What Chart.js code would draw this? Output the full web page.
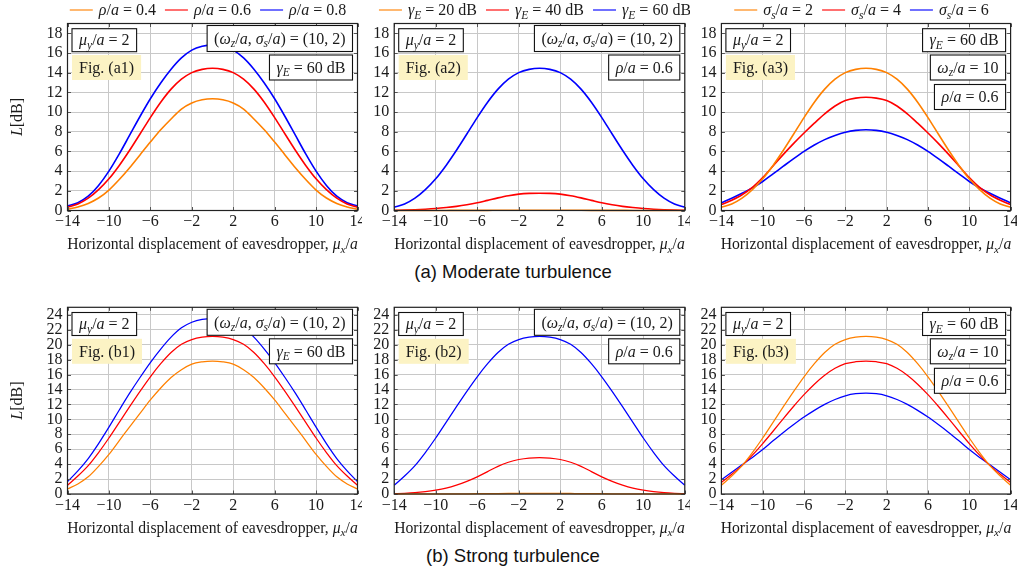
<!DOCTYPE html>
<html>
<head>
<meta charset="utf-8">
<script src="https://cdn.jsdelivr.net/npm/chart.js@4.4.1/dist/chart.umd.min.js"></script>
<style>
  html, body { margin: 0; padding: 0; background: #fff; }
  body { width: 1017px; height: 573px; position: relative; overflow: hidden; }
  canvas { position: absolute; }
  .cap {
    position: absolute; transform: translate(-50%, -50%); white-space: nowrap;
    font-family: "Liberation Sans", Arial, sans-serif; font-size: 18.5px; color: #111;
  }
</style>
</head>
<body>
<canvas id="a1"></canvas>
<canvas id="a2"></canvas>
<canvas id="a3"></canvas>
<canvas id="b1"></canvas>
<canvas id="b2"></canvas>
<canvas id="b3"></canvas>
<div class="cap" style="left:513px; top:272px;">(a) Moderate turbulence</div>
<div class="cap" style="left:513px; top:556px;">(b) Strong turbulence</div>
<script>
// horizontal displacement of the eavesdropper, mu_x / a
const muX = [-14, -13, -12, -11, -10, -9, -8, -7, -6, -5, -4, -3, -2, -1, 0,
             1, 2, 3, 4, 5, 6, 7, 8, 9, 10, 11, 12, 13, 14];
const xTicks = [-14, -10, -6, -2, 2, 6, 10, 14];
const yTicksModerate = [0, 2, 4, 6, 8, 10, 12, 14, 16, 18];
const yTicksStrong = [0, 2, 4, 6, 8, 10, 12, 14, 16, 18, 20, 22, 24];

// (a) moderate turbulence, L in dB
const modRho04 = [0.13, 0.36, 0.72, 1.27, 2.08, 3.15, 4.35, 5.65, 6.95, 8.2, 9.3, 10.31, 10.93, 11.25, 11.35,
                  11.25, 10.93, 10.31, 9.3, 8.2, 6.95, 5.65, 4.35, 3.15, 2.08, 1.27, 0.72, 0.36, 0.13];
// rho/a = 0.6, gammaE = 60 dB, sigma_s/a = 2 (same curve in a1, a2, a3)
const modRho06 = [0.32, 0.66, 1.25, 2.12, 3.22, 4.58, 6.12, 7.77, 9.44, 11.0, 12.33, 13.34, 14.01, 14.34, 14.45,
                  14.34, 14.01, 13.34, 12.33, 11.0, 9.44, 7.77, 6.12, 4.58, 3.22, 2.12, 1.25, 0.66, 0.32];
const modRho08 = [0.45, 0.79, 1.45, 2.55, 4.0, 5.75, 7.65, 9.55, 11.35, 12.95, 14.35, 15.5, 16.3, 16.68, 16.8,
                  16.68, 16.3, 15.5, 14.35, 12.95, 11.35, 9.55, 7.65, 5.75, 4.0, 2.55, 1.45, 0.79, 0.45];
const modGamma20 = [0, 0.001, 0.002, 0.003, 0.005, 0.007, 0.01, 0.012, 0.015, 0.017, 0.02, 0.022, 0.025, 0.03, 0.03,
                    0.03, 0.025, 0.022, 0.02, 0.017, 0.015, 0.012, 0.01, 0.007, 0.005, 0.003, 0.002, 0.001, 0];
const modGamma40 = [0.02, 0.04, 0.08, 0.13, 0.2, 0.3, 0.42, 0.58, 0.78, 1.03, 1.28, 1.5, 1.66, 1.74, 1.76,
                    1.74, 1.66, 1.5, 1.28, 1.03, 0.78, 0.58, 0.42, 0.3, 0.2, 0.13, 0.08, 0.04, 0.02];
const modSigma4 = [0.6, 1.05, 1.6, 2.35, 3.35, 4.52, 5.7, 6.82, 7.87, 8.87, 9.82, 10.62, 11.17, 11.42, 11.5,
                   11.42, 11.17, 10.62, 9.82, 8.87, 7.87, 6.82, 5.7, 4.52, 3.35, 2.35, 1.6, 1.05, 0.6];
const modSigma6 = [0.78, 1.25, 1.75, 2.3, 2.95, 3.72, 4.5, 5.27, 6.0, 6.65, 7.2, 7.62, 7.95, 8.14, 8.2,
                   8.14, 7.95, 7.62, 7.2, 6.65, 6.0, 5.27, 4.5, 3.72, 2.95, 2.3, 1.75, 1.25, 0.78];

// (b) strong turbulence, L in dB
const strRho04 = [0.67, 1.35, 2.3, 3.7, 5.3, 7.15, 9.0, 10.8, 12.6, 14.2, 15.6, 16.65, 17.4, 17.7, 17.8,
                  17.7, 17.4, 16.65, 15.6, 14.2, 12.6, 10.8, 9.0, 7.15, 5.3, 3.7, 2.3, 1.35, 0.67];
const strRho06 = [1.16, 2.4, 3.8, 5.55, 7.5, 9.6, 11.7, 13.75, 15.7, 17.45, 18.95, 20.05, 20.68, 21.0, 21.1,
                  21.0, 20.68, 20.05, 18.95, 17.45, 15.7, 13.75, 11.7, 9.6, 7.5, 5.55, 3.8, 2.4, 1.16];
const strRho08 = [1.66, 3.1, 4.75, 6.75, 8.95, 11.25, 13.5, 15.6, 17.6, 19.4, 21.0, 22.25, 23.0, 23.38, 23.5,
                  23.38, 23.0, 22.25, 21.0, 19.4, 17.6, 15.6, 13.5, 11.25, 8.95, 6.75, 4.75, 3.1, 1.66];
const strGamma20 = [0, 0.001, 0.002, 0.004, 0.006, 0.01, 0.016, 0.025, 0.035, 0.048, 0.06, 0.068, 0.075, 0.079, 0.08,
                    0.079, 0.075, 0.068, 0.06, 0.048, 0.035, 0.025, 0.016, 0.01, 0.006, 0.004, 0.002, 0.001, 0];
const strGamma40 = [0.05, 0.1, 0.18, 0.32, 0.52, 0.8, 1.2, 1.7, 2.3, 3.0, 3.7, 4.25, 4.62, 4.82, 4.87,
                    4.82, 4.62, 4.25, 3.7, 3.0, 2.3, 1.7, 1.2, 0.8, 0.52, 0.32, 0.18, 0.1, 0.05];
const strSigma4 = [1.55, 2.65, 3.8, 5.2, 6.75, 8.4, 10.1, 11.75, 13.3, 14.7, 15.9, 16.83, 17.45, 17.71, 17.8,
                   17.71, 17.45, 16.83, 15.9, 14.7, 13.3, 11.75, 10.1, 8.4, 6.75, 5.2, 3.8, 2.65, 1.55];
const strSigma6 = [1.9, 2.92, 3.92, 4.9, 5.95, 7.12, 8.25, 9.3, 10.3, 11.2, 12.0, 12.65, 13.15, 13.43, 13.5,
                   13.43, 13.15, 12.65, 12.0, 11.2, 10.3, 9.3, 8.25, 7.12, 5.95, 4.9, 3.92, 2.92, 1.9];

const ORANGE = '#ff8000';
const RED = '#ff0000';
const BLUE = '#0000ff';
const SERIF = '"Liberation Serif", "Times New Roman", serif';
const TEXT = '#1a1a1a';
const FIG_BG = '#fcf3c4';
const NOTE_SIZE = 16;

// simple markup: _c or _{..} subscript, {..} upright group, letters italic
function parseRich(str) {
    const segs = [];
    let i = 0;
    while (i < str.length) {
        const c = str[i];
        if (c === '_') {
            let t;
            if (str[i + 1] === '{') {
                const j = str.indexOf('}', i);
                t = str.slice(i + 2, j);
                i = j + 1;
            } else {
                t = str[i + 1];
                i += 2;
            }
            segs.push({ t: t, it: true, sub: true });
        } else if (c === '{') {
            const j = str.indexOf('}', i);
            segs.push({ t: str.slice(i + 1, j), it: false });
            i = j + 1;
        } else {
            segs.push({ t: c, it: /[A-Za-z\u03b1-\u03c9]/.test(c) });
            i++;
        }
    }
    return segs;
}

function fontFor(seg, size) {
    const s = seg.sub ? size * 0.72 : size;
    return (seg.it ? 'italic ' : '') + s + 'px ' + SERIF;
}

function richWidth(ctx, segs, size) {
    let w = 0;
    segs.forEach(g => {
        ctx.font = fontFor(g, size);
        w += ctx.measureText(g.t).width;
    });
    return w;
}

function drawRich(ctx, str, x, yMid, size, align) {
    const segs = parseRich(str);
    const w = richWidth(ctx, segs, size);
    let cx = align === 'center' ? x - w / 2 : (align === 'right' ? x - w : x);
    const base = yMid + size * 0.33;
    ctx.textAlign = 'left';
    ctx.textBaseline = 'alphabetic';
    ctx.fillStyle = TEXT;
    segs.forEach(g => {
        ctx.font = fontFor(g, size);
        ctx.fillText(g.t, cx, base + (g.sub ? size * 0.22 : 0));
        cx += ctx.measureText(g.t).width;
    });
    return w;
}

function tickText(v) {
    return v < 0 ? '\u2212' + Math.abs(v) : String(v);
}

const cols = [
    { left: 0, width: 362, yw: 67.5, rp: 4.5 },
    { left: 362, width: 328, yw: 32.2, rp: 5.2 },
    { left: 690, width: 327, yw: 31.4, rp: 6.4 }
];
const rows = {
    a: { top: 0, height: 256, padTop: 23.5, xh: 45.5, yMax: 19, yTicks: yTicksModerate, lw: 1.6, legend: true },
    b: { top: 290, height: 250, padTop: 17.3, xh: 46, yMax: 25, yTicks: yTicksStrong, lw: 1.25, legend: false }
};

const boxMu = { txt: '\u03bc_y/a = 2', side: 'l', top: 5.2, h: 23 };
const boxOmegaSigma = { txt: '(\u03c9_z/a, \u03c3_s/a) = (10, 2)', side: 'r', top: 2, h: 26 };
const figBox = name => ({ txt: '{Fig. (' + name + ')}', side: 'l', top: 31.5, h: 25, fill: FIG_BG });

const panels = [
    { id: 'a1', row: 'a', col: 0, yTitle: true,
      series: [[modRho04, '\u03c1/a = 0.4', ORANGE], [modRho06, '\u03c1/a = 0.6', RED], [modRho08, '\u03c1/a = 0.8', BLUE]],
      boxes: [boxMu, figBox('a1'), boxOmegaSigma, { txt: '\u03b3_E = 60 {dB}', side: 'r', top: 31.5, h: 25 }] },
    { id: 'a2', row: 'a', col: 1,
      series: [[modGamma20, '\u03b3_E = 20 {dB}', ORANGE], [modGamma40, '\u03b3_E = 40 {dB}', RED], [modRho06, '\u03b3_E = 60 {dB}', BLUE]],
      boxes: [boxMu, figBox('a2'), boxOmegaSigma, { txt: '\u03c1/a = 0.6', side: 'r', top: 31.5, h: 25 }] },
    { id: 'a3', row: 'a', col: 2,
      series: [[modRho06, '\u03c3_s/a = 2', ORANGE], [modSigma4, '\u03c3_s/a = 4', RED], [modSigma6, '\u03c3_s/a = 6', BLUE]],
      boxes: [boxMu, figBox('a3'), { txt: '\u03b3_E = 60 {dB}', side: 'r', top: 5.2, h: 23 },
              { txt: '\u03c9_z/a = 10', side: 'r', top: 31.5, h: 25 }, { txt: '\u03c1/a = 0.6', side: 'r', top: 61, h: 25 }] },
    { id: 'b1', row: 'b', col: 0, yTitle: true,
      series: [[strRho04, '\u03c1/a = 0.4', ORANGE], [strRho06, '\u03c1/a = 0.6', RED], [strRho08, '\u03c1/a = 0.8', BLUE]],
      boxes: [boxMu, figBox('b1'), boxOmegaSigma, { txt: '\u03b3_E = 60 {dB}', side: 'r', top: 31.5, h: 25 }] },
    { id: 'b2', row: 'b', col: 1,
      series: [[strGamma20, '\u03b3_E = 20 {dB}', ORANGE], [strGamma40, '\u03b3_E = 40 {dB}', RED], [strRho06, '\u03b3_E = 60 {dB}', BLUE]],
      boxes: [boxMu, figBox('b2'), boxOmegaSigma, { txt: '\u03c1/a = 0.6', side: 'r', top: 31.5, h: 25 }] },
    { id: 'b3', row: 'b', col: 2,
      series: [[strRho06, '\u03c3_s/a = 2', ORANGE], [strSigma4, '\u03c3_s/a = 4', RED], [strSigma6, '\u03c3_s/a = 6', BLUE]],
      boxes: [boxMu, figBox('b3'), { txt: '\u03b3_E = 60 {dB}', side: 'r', top: 5.2, h: 23 },
              { txt: '\u03c9_z/a = 10', side: 'r', top: 31.5, h: 25 }, { txt: '\u03c1/a = 0.6', side: 'r', top: 61, h: 25 }] }
];

// panel settings looked up by canvas id (kept out of the chart options)
const panelById = {};
panels.forEach(p => { panelById[p.id] = p; });

// frame, inner tick marks, note boxes, legend and axis titles
const overlay = {
    id: 'overlay',
    afterDatasetsDraw(chart) {
        const ctx = chart.ctx;
        const a = chart.chartArea;
        const sx = chart.scales.x, sy = chart.scales.y;
        const p = panelById[chart.canvas.id];
        const r = rows[p.row];
        ctx.save();

        ctx.strokeStyle = '#555';
        ctx.lineWidth = 1;
        ctx.beginPath();
        xTicks.forEach(v => {
            const px = Math.round(sx.getPixelForValue(v)) + 0.5;
            ctx.moveTo(px, a.bottom); ctx.lineTo(px, a.bottom - 3.5);
            ctx.moveTo(px, a.top); ctx.lineTo(px, a.top + 3.5);
        });
        r.yTicks.forEach(v => {
            const py = Math.round(sy.getPixelForValue(v)) + 0.5;
            ctx.moveTo(a.left, py); ctx.lineTo(a.left + 3.5, py);
            ctx.moveTo(a.right, py); ctx.lineTo(a.right - 3.5, py);
        });
        ctx.stroke();

        ctx.strokeStyle = '#222';
        ctx.lineWidth = 1.2;
        ctx.strokeRect(a.left, a.top, a.right - a.left, a.bottom - a.top);

        // note boxes
        p.boxes.forEach(b => {
            const w = richWidth(ctx, parseRich(b.txt), NOTE_SIZE) + 14;
            const bx = b.side === 'l' ? a.left + 4.5 : a.right - 5 - w;
            const by = a.top + b.top;
            ctx.fillStyle = b.fill ? b.fill : '#ffffff';
            ctx.fillRect(bx, by, w, b.h);
            if (!b.fill) {
                ctx.strokeStyle = '#111';
                ctx.lineWidth = 1.1;
                ctx.strokeRect(bx, by, w, b.h);
            }
            drawRich(ctx, b.txt, bx + 7, by + b.h / 2, NOTE_SIZE, 'left');
        });

        // legend above the plot (row a only)
        if (r.legend) {
            const items = chart.data.datasets.map(d => ({ d: d, w: richWidth(ctx, parseRich(d.label), NOTE_SIZE) }));
            const lineLen = 23, gap1 = 6, gap2 = 9;
            let total = 0;
            items.forEach(it => { total += lineLen + gap1 + it.w + gap2; });
            let lx = (a.left + a.right) / 2 - total / 2;
            const ly = 10;
            items.forEach(it => {
                ctx.strokeStyle = it.d.borderColor;
                ctx.globalAlpha = 0.7;
                ctx.lineWidth = 1.6;
                ctx.beginPath();
                ctx.moveTo(lx, ly); ctx.lineTo(lx + lineLen, ly);
                ctx.stroke();
                ctx.globalAlpha = 1;
                drawRich(ctx, it.d.label, lx + lineLen + gap1, ly, NOTE_SIZE, 'left');
                lx += lineLen + gap1 + it.w + gap2;
            });
        }

        drawRich(ctx, '{Horizontal displacement of eavesdropper, }\u03bc_x/a',
            (a.left + a.right) / 2, a.bottom + 33.5, 15.7, 'center');

        if (p.yTitle) {
            ctx.translate(17, (a.top + a.bottom) / 2);
            ctx.rotate(-Math.PI / 2);
            drawRich(ctx, 'L{[dB]}', 0, 0, 16, 'center');
        }
        ctx.restore();
    }
};

function makePanel(p) {
    const r = rows[p.row], c = cols[p.col];
    const canvas = document.getElementById(p.id);
    canvas.width = c.width;
    canvas.height = r.height;
    canvas.style.left = c.left + 'px';
    canvas.style.top = r.top + 'px';

    const tickFont = { family: SERIF, size: 16 };
    const grid = { color: '#c8c8c8', lineWidth: 1, drawTicks: false };

    new Chart(canvas, {
        type: 'line',
        data: {
            datasets: p.series.map(s => ({
                label: s[1],
                data: muX.map((x, i) => ({ x: x, y: s[0][i] })),
                borderColor: s[2],
                borderWidth: r.lw,
                pointRadius: 0,
                fill: false,
                cubicInterpolationMode: 'monotone',
                clip: 3
            }))
        },
        options: {
            responsive: false,
            animation: false,
            events: [],
            layout: { autoPadding: false, padding: { top: r.padTop, right: c.rp, left: 0, bottom: 0 } },
            plugins: {
                legend: { display: false },
                tooltip: { enabled: false }
            },
            scales: {
                x: {
                    type: 'linear', min: -14, max: 14,
                    afterBuildTicks: s => { s.ticks = xTicks.map(v => ({ value: v })); },
                    afterFit: s => { s.height = r.xh; s.paddingLeft = 0; s.paddingRight = 0; },
                    ticks: { autoSkip: false, maxRotation: 0, padding: 2, font: tickFont, color: TEXT, callback: v => tickText(v) },
                    grid: grid,
                    border: { display: false }
                },
                y: {
                    type: 'linear', min: 0, max: r.yMax,
                    afterBuildTicks: s => { s.ticks = r.yTicks.map(v => ({ value: v })); },
                    afterFit: s => { s.width = c.yw; s.paddingTop = 0; s.paddingBottom = 0; },
                    ticks: { autoSkip: false, padding: 5, font: tickFont, color: TEXT, callback: v => tickText(v) },
                    grid: grid,
                    border: { display: false }
                }
            }
        },
        plugins: [overlay]
    });
}

panels.forEach(makePanel);
</script>
</body>
</html>
